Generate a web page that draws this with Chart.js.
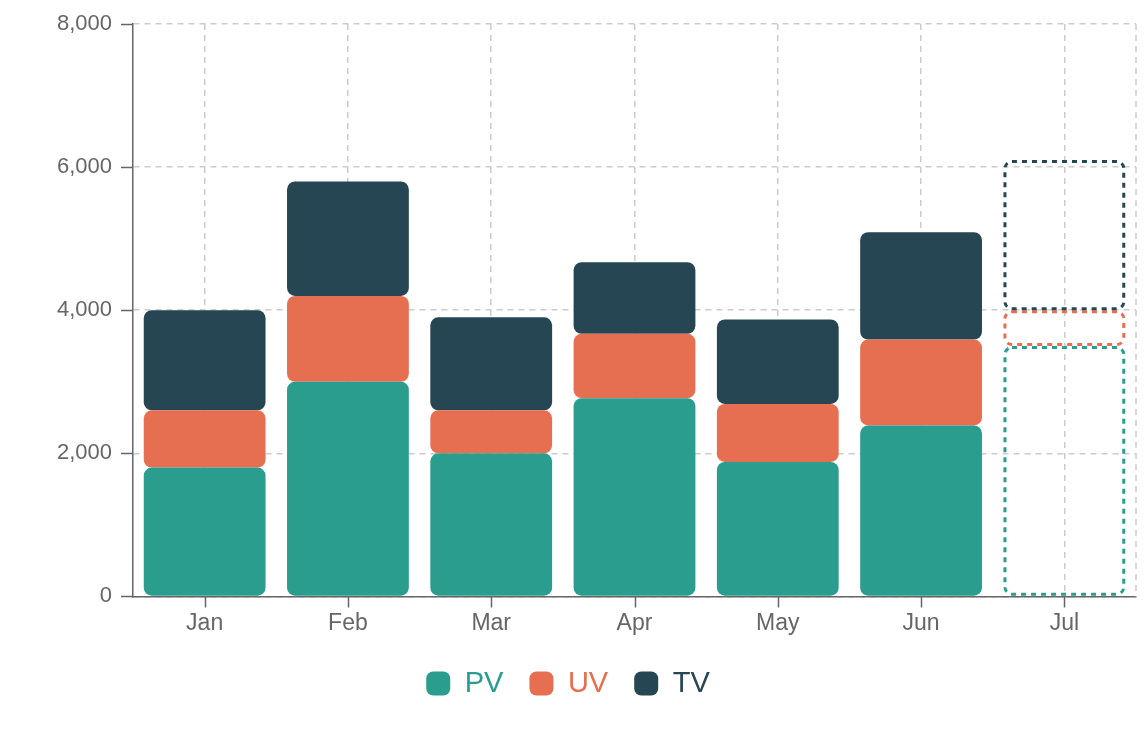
<!DOCTYPE html>
<html>
<head>
<meta charset="utf-8">
<script src="https://cdn.jsdelivr.net/npm/chart.js@4/dist/chart.umd.min.js"></script>
<style>
html,body{margin:0;padding:0;background:#fff;}
#wrap{width:1148px;height:736px;}
</style>
</head>
<body>
<div id="wrap"><canvas id="c" width="1148" height="736"></canvas></div>
<script>
const categories = ['Jan','Feb','Mar','Apr','May','Jun','Jul'];
const pvValues = [1800, 3000, 2000, 2770, 1880, 2390, 3500];
const uvValues = [800, 1200, 600, 900, 810, 1200, 500];
const tvValues = [1400, 1600, 1300, 1000, 1180, 1500, 2100];
const yTicks = [0, 2000, 4000, 6000, 8000];
const forecastIndex = 6;

const colors = { PV: '#2a9d8f', UV: '#e76f51', TV: '#264653' };
const axisColor = '#666666';
const gridColor = '#cccccc';
const fontFamily = 'Liberation Sans, Arial, sans-serif';

function ds(label, data) {
  return {
    label: label,
    data: data,
    backgroundColor: (ctx) => ctx.dataIndex === forecastIndex ? 'rgba(0,0,0,0)' : colors[label],
    borderWidth: 0,
    borderRadius: { topLeft: 8, topRight: 8, bottomLeft: 8, bottomRight: 8 },
    borderSkipped: false,
    stack: 's'
  };
}

const extras = {
  id: 'extras',
  beforeDatasetsDraw(chart) {
    const a = chart.chartArea;
    const ctx = chart.ctx;
    ctx.save();
    ctx.strokeStyle = gridColor;
    ctx.lineWidth = 1.5;
    ctx.setLineDash([6, 5]);
    ctx.beginPath();
    ctx.moveTo(a.right, a.top);
    ctx.lineTo(a.right, a.bottom);
    ctx.stroke();
    ctx.setLineDash([]);
    ctx.strokeStyle = axisColor;
    ctx.lineWidth = 1.5;
    const xs = chart.scales.x, ys = chart.scales.y;
    ctx.beginPath();
    xs.ticks.forEach((t, i) => {
      const px = Math.round(xs.getPixelForTick(i)) + 0.5;
      ctx.moveTo(px, a.bottom);
      ctx.lineTo(px, a.bottom + 11);
    });
    ys.ticks.forEach((t, i) => {
      const py = Math.round(ys.getPixelForTick(i)) + 0.5;
      ctx.moveTo(a.left, py);
      ctx.lineTo(a.left - 12, py);
    });
    ctx.stroke();
    ctx.restore();
  },
  afterDatasetsDraw(chart) {
    const ctx = chart.ctx;
    chart.data.datasets.forEach((d, i) => {
      const meta = chart.getDatasetMeta(i);
      const el = meta.data[forecastIndex];
      if (!el) return;
      const p = el.getProps(['x', 'y', 'base', 'width'], true);
      const left = p.x - p.width / 2 + 1.5;
      const w = p.width - 3;
      const top = Math.min(p.y, p.base) + 1.5;
      const h = Math.abs(p.base - p.y) - 3;
      ctx.save();
      ctx.strokeStyle = colors[d.label];
      ctx.lineWidth = 3;
      ctx.setLineDash([5, 5]);
      ctx.beginPath();
      ctx.roundRect(left, top, w, h, 7);
      ctx.stroke();
      ctx.restore();
    });
  }
};

new Chart(document.getElementById('c'), {
  type: 'bar',
  data: {
    labels: categories,
    datasets: [ds('PV', pvValues), ds('UV', uvValues), ds('TV', tvValues)]
  },
  options: {
    responsive: false,
    animation: false,
    layout: { padding: { top: 24, right: 12, left: 0, bottom: 28 } },
    datasets: { bar: { categoryPercentage: 1, barPercentage: 0.85 } },
    scales: {
      x: {
        stacked: true,
        afterFit: (scale) => { scale.height += 3; },
        grid: {
          offset: false,
          color: gridColor,
          lineWidth: 1.5,
          tickColor: 'rgba(0,0,0,0)',
          tickLength: 10
        },
        border: { display: true, color: axisColor, width: 1.5, dash: [6, 5] },
        ticks: { color: axisColor, font: { family: fontFamily, size: 23 }, padding: 3 }
      },
      y: {
        stacked: true,
        min: 0,
        max: 8000,
        afterBuildTicks: (scale) => { scale.ticks = yTicks.map(v => ({ value: v })); },
        afterFit: (scale) => { scale.width = 133; },
        grid: {
          color: gridColor,
          lineWidth: 1.5,
          tickColor: 'rgba(0,0,0,0)',
          tickLength: 12
        },
        border: { display: true, color: axisColor, width: 1.5, dash: [6, 5] },
        ticks: {
          color: axisColor,
          font: { family: fontFamily, size: 22 },
          padding: 9,
          callback: (v) => v.toLocaleString('en-US')
        }
      }
    },
    plugins: {
      tooltip: { enabled: false },
      legend: {
        position: 'bottom',
        labels: {
          boxWidth: 24,
          boxHeight: 24,
          useBorderRadius: true,
          borderRadius: 7,
          padding: 26,
          font: { family: fontFamily, size: 29 },
          generateLabels: (chart) => chart.data.datasets.map((d, i) => ({
            text: d.label,
            fillStyle: colors[d.label],
            strokeStyle: colors[d.label],
            lineWidth: 0,
            fontColor: colors[d.label],
            borderRadius: 7,
            hidden: false,
            datasetIndex: i
          }))
        }
      }
    }
  },
  plugins: [extras]
});
</script>
</body>
</html>
